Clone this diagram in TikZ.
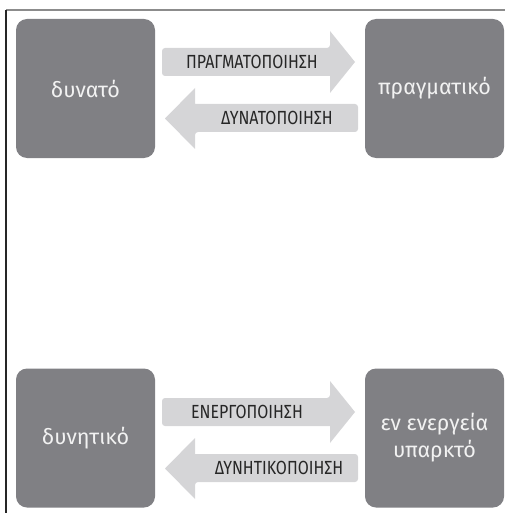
\documentclass[tikz,border=0pt]{standalone}
\usepackage{fontspec}
\usepackage{graphicx}
\setmainfont{Fira Sans}
\definecolor{boxgray}{HTML}{808084}
\definecolor{arrowgray}{HTML}{D5D5D7}
\definecolor{framegray}{HTML}{8C8C8C}
\definecolor{textdark}{HTML}{262626}
\definecolor{boxtext}{HTML}{F2F2F2}
\tikzset{
  statebox/.style={fill=boxgray, rounded corners=11pt, minimum width=139pt,
    minimum height=139pt, inner sep=0pt, text=boxtext, align=center,
    font=\fontsize{21.5}{27}\selectfont},
  flow/.style={fill=arrowgray, rounded corners=3pt},
  flowlabel/.style={text=textdark, inner sep=0pt,
    font=\fontsize{19}{21}\selectfont},
}
\newcommand{\narrow}[1]{\scalebox{0.84}[1]{#1}}
\begin{document}
\begin{tikzpicture}[x=1pt, y=-1pt]
\useasboundingbox (0,0) rectangle (505,513);
% frame
\draw[framegray, line width=1.1pt] (6,10) -- (505,10);
\draw[black!85, line width=1.1pt] (6,10) -- (6,513);

% upper pair
\node[statebox] (dyn) at (85.5,88.5) {δυνατό};
\node[statebox] (prag) at (434.5,88.5) {πραγματικό};
\fill[flow] (162,48) -- (330,48) [sharp corners] -- (330,31) -- (355,62) -- (330,93)
  -- (330,76) [rounded corners=3pt] -- (162,76) -- cycle;
\node[flowlabel] (l1) at (252,62) {\narrow{ΠΡΑΓΜΑΤΟΠΟΙΗΣΗ}};
\fill[flow] (358,104) -- (358,132) -- (195,132) [sharp corners] -- (195,149) -- (165,118.5)
  -- (195,88) -- (195,104) [rounded corners=3pt] -- cycle;
\node[flowlabel] (l2) at (277,118) {\narrow{ΔΥΝΑΤΟΠΟΙΗΣΗ}};

% lower pair
\node[statebox] (dynt) at (85.5,438) {δυνητικό};
\node[statebox] (ener) at (434.5,438) {εν ενεργεία\\υπαρκτό};
\fill[flow] (162,398) -- (330,398) [sharp corners] -- (330,381) -- (355,412) -- (330,443)
  -- (330,426) [rounded corners=3pt] -- (162,426) -- cycle;
\node[flowlabel] (l3) at (247,412) {\narrow{ΕΝΕΡΓΟΠΟΙΗΣΗ}};
\fill[flow] (358,454) -- (358,482) -- (195,482) [sharp corners] -- (195,499) -- (165,468.5)
  -- (195,438) -- (195,454) [rounded corners=3pt] -- cycle;
\node[flowlabel] (l4) at (279,468) {\narrow{ΔΥΝΗΤΙΚΟΠΟΙΗΣΗ}};
\end{tikzpicture}
\end{document}
